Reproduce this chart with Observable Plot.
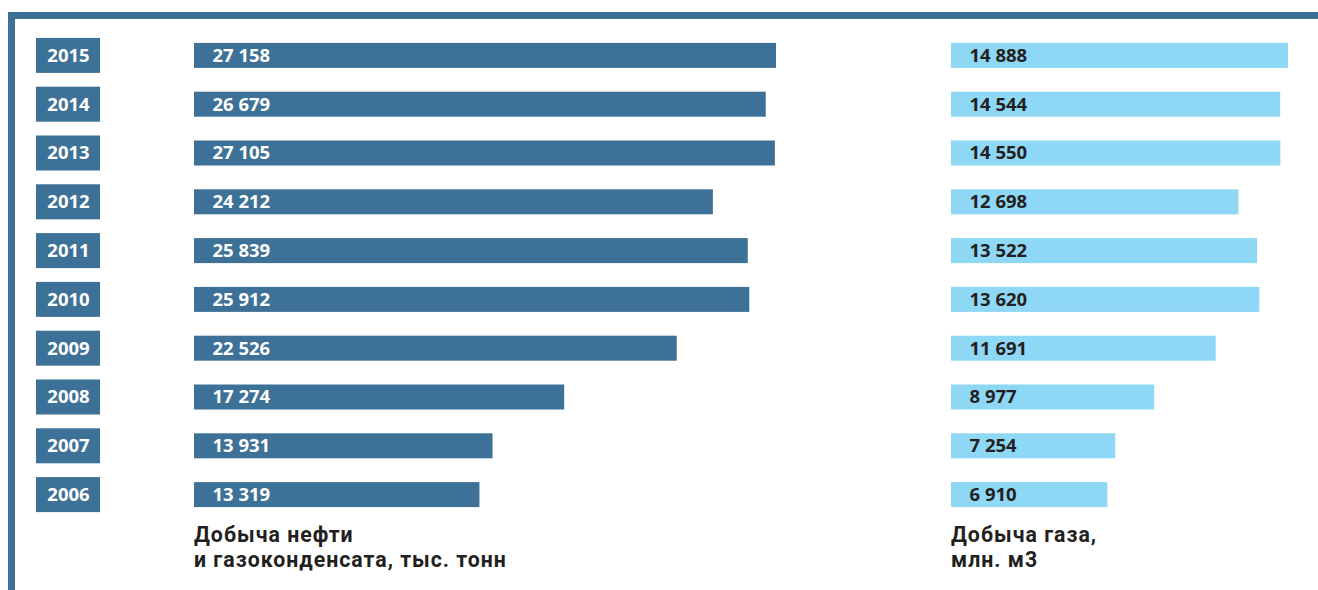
<!DOCTYPE html>
<html>
<head>
<meta charset="utf-8">
<script src="https://cdn.jsdelivr.net/npm/d3@7"></script>
<script src="https://cdn.jsdelivr.net/npm/@observablehq/plot@0.6"></script>
<style>
  html, body { margin: 0; padding: 0; background: #fff; }
  #wrap { position: relative; width: 1318px; height: 590px; overflow: hidden; font-family: "Open Sans", sans-serif; }
  .frame { position: absolute; background: #3d7096; }
  .layer { position: absolute; left: 0; top: 0; }
  .caption { position: absolute; font-family: Roboto, sans-serif; font-weight: 700; font-size: 21.3px; letter-spacing: 1px; line-height: 25px; color: #231f20; white-space: nowrap; }
</style>
</head>
<body>
<div id="wrap">
  <div class="frame" style="left:8px; top:12px; width:1310px; height:7px;"></div>
  <div class="frame" style="left:8px; top:12px; width:7px; height:578px;"></div>
  <div id="years" class="layer"></div>
  <div id="oil" class="layer"></div>
  <div id="gas" class="layer"></div>
  <div id="oilCap" class="caption" style="left:194px; top:522px;"></div>
  <div id="gasCap" class="caption" style="left:951px; top:522px;"></div>
</div>
<script>
const years = ["2015", "2014", "2013", "2012", "2011", "2010", "2009", "2008", "2007", "2006"];
const oilValues = [27158, 26679, 27105, 24212, 25839, 25912, 22526, 17274, 13931, 13319];
const gasValues = [14888, 14544, 14550, 12698, 13522, 13620, 11691, 8977, 7254, 6910];
const oilCaption = ["Добыча нефти", "и газоконденсата, тыс. тонн"];
const gasCaption = ["Добыча газа,", "млн. м3"];

const oilColor = "#3d7197";
const gasColor = "#8ed8f6";
const captionColor = "#231f20";
const fmt = v => d3.format(",")(v).replace(/,/g, " ");

const oilData = years.map((y, i) => ({year: y, value: oilValues[i]}));
const gasData = years.map((y, i) => ({year: y, value: gasValues[i]}));

const H = 519, MT = 31;
const yScale = {domain: years, padding: 0, round: false, axis: null};
const step = (H - MT) / years.length;
const barInset = (step - 25) / 2;
const boxInset = (step - 35) / 2;
const baseStyle = {fontFamily: "Open Sans, sans-serif", background: "transparent", overflow: "visible"};
const FS = 18.5;

function fillCaption(id, lines) {
  const el = document.getElementById(id);
  lines.forEach((t, i) => {
    if (i) el.appendChild(document.createElement("br"));
    el.appendChild(document.createTextNode(t));
  });
}
fillCaption("oilCap", oilCaption);
fillCaption("gasCap", gasCaption);

const yearsPlot = Plot.plot({
  width: 100, height: H, marginTop: MT, marginBottom: 0, marginLeft: 36, marginRight: 0,
  style: baseStyle,
  y: yScale,
  marks: [
    Plot.cell(years, {y: d => d, fill: oilColor, insetTop: boxInset, insetBottom: boxInset}),
    Plot.text(years, {y: d => d, text: d => d, frameAnchor: "middle", fill: "white", fontSize: FS, fontWeight: "bold"})
  ]
});
document.getElementById("years").appendChild(yearsPlot);

const oilPlot = Plot.plot({
  width: 1318, height: H, marginTop: MT, marginBottom: 0, marginLeft: 194, marginRight: 1318 - 776,
  style: baseStyle,
  x: {domain: [0, 27158], axis: null},
  y: yScale,
  marks: [
    Plot.barX(oilData, {x: "value", y: "year", fill: oilColor, insetTop: barInset, insetBottom: barInset}),
    Plot.text(oilData, {x: 0, y: "year", text: d => fmt(d.value), textAnchor: "start", dx: 18, fill: "white", fontSize: FS, fontWeight: "bold"})
  ]
});
document.getElementById("oil").appendChild(oilPlot);

const gasPlot = Plot.plot({
  width: 1318, height: H, marginTop: MT, marginBottom: 0, marginLeft: 951, marginRight: 1318 - 1288,
  style: baseStyle,
  x: {domain: [0, 14888], axis: null},
  y: yScale,
  marks: [
    Plot.barX(gasData, {x: "value", y: "year", fill: gasColor, insetTop: barInset, insetBottom: barInset}),
    Plot.text(gasData, {x: 0, y: "year", text: d => fmt(d.value), textAnchor: "start", dx: 18, fill: captionColor, fontSize: FS, fontWeight: "bold"})
  ]
});
document.getElementById("gas").appendChild(gasPlot);
</script>
</body>
</html>
